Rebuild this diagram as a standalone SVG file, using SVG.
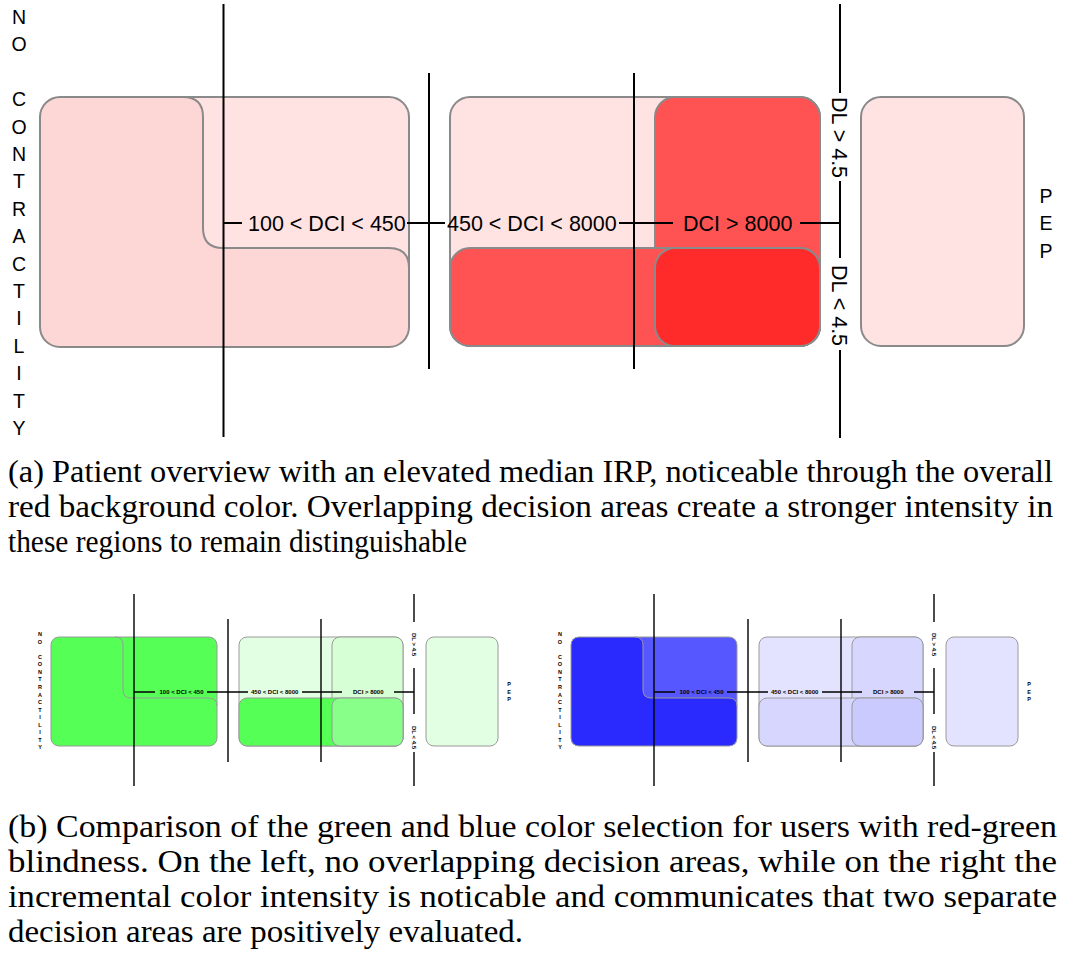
<svg xmlns="http://www.w3.org/2000/svg" width="1071" height="959" viewBox="0 0 1071 959">
<style>
.ln{stroke:#000;stroke-width:2;fill:none}
.sln{stroke:#000;stroke-width:1.4;fill:none}
.box{stroke:#8a8a8a;stroke-width:2}
.sbox{stroke:#9a9a9a;stroke-width:1}
.edge{stroke:#8a8a8a;stroke-width:2;fill:none}
.sedge{stroke:#9a9a9a;stroke-width:1;fill:none}
.lbl{font-family:"Liberation Sans",Arial,sans-serif;font-size:21.5px;fill:#000}
.axis{font-family:"Liberation Sans",Arial,sans-serif;font-size:19.5px;fill:#000;text-anchor:middle}
.slbl{font-family:"Liberation Sans",Arial,sans-serif;font-size:6px;font-weight:bold;fill:#000}
.saxis{font-family:"Liberation Sans",Arial,sans-serif;font-size:5.5px;font-weight:bold;fill:#000;text-anchor:middle}
.cap{font-family:"Liberation Serif","Times New Roman",Times,serif;font-size:32px;fill:#000}
</style>

<!-- ===== (a) red overview ===== -->
<g id="axis-no-contractility">
  <text class="axis" x="19" y="24"><tspan x="19">N</tspan><tspan x="19" dy="27.4">O</tspan><tspan x="19" dy="54.8">C</tspan><tspan x="19" dy="27.4">O</tspan><tspan x="19" dy="27.4">N</tspan><tspan x="19" dy="27.4">T</tspan><tspan x="19" dy="27.4">R</tspan><tspan x="19" dy="27.4">A</tspan><tspan x="19" dy="27.4">C</tspan><tspan x="19" dy="27.4">T</tspan><tspan x="19" dy="27.4">I</tspan><tspan x="19" dy="27.4">L</tspan><tspan x="19" dy="27.4">I</tspan><tspan x="19" dy="27.4">T</tspan><tspan x="19" dy="27.4">Y</tspan></text>
</g>

<g id="area-low-dci">
  <rect x="40" y="97" width="369" height="250" rx="20" fill="#ffe3e3"/>
  <path d="M60,97 H183 Q203,97 203,117 V228 Q203,248 223,248 H389 Q409,248 409,268 V327 Q409,347 389,347 H60 Q40,347 40,327 V117 Q40,97 60,97 Z" fill="#fdd6d6"/>
  <path class="edge" d="M183,97 Q203,97 203,117 V228 Q203,248 223,248 H389 Q409,248 409,268"/>
  <rect class="edge" x="40" y="97" width="369" height="250" rx="20"/>
</g>

<g id="area-mid-dci">
  <rect class="box" x="450" y="97" width="370" height="249" rx="20" fill="#ffe3e3"/>
  <rect class="box" x="655" y="97" width="165" height="249" rx="20" fill="#ff5353"/>
  <rect class="box" x="450" y="248" width="370" height="98" rx="20" fill="#ff5353"/>
  <rect class="box" x="655" y="248" width="165" height="98" rx="20" fill="#ff2a2a"/>
</g>

<g id="area-pep">
  <rect class="box" x="861" y="97" width="163" height="249" rx="20" fill="#ffe3e3"/>
  <text class="axis" x="1046" y="202.5"><tspan x="1046">P</tspan><tspan x="1046" dy="27.5">E</tspan><tspan x="1046" dy="27.5">P</tspan></text>
</g>

<g id="connectors">
  <path class="ln" d="M223.5,4 V437 M429,73 V369 M634,73 V369 M840,4 V93 M840,181 V258 M840,350 V438"/>
  <path class="ln" d="M224,223 H242 M407,223 H445 M619,223 H673 M800,223 H840"/>
  <text class="lbl" x="248" y="231">100 &lt; DCI &lt; 450</text>
  <text class="lbl" x="447" y="231">450 &lt; DCI &lt; 8000</text>
  <text class="lbl" x="683" y="231">DCI &gt; 8000</text>
  <text class="lbl" transform="translate(832,97) rotate(90)">DL &gt; 4.5</text>
  <text class="lbl" transform="translate(832,265) rotate(90)">DL &lt; 4.5</text>
</g>

<g id="caption-a" class="cap">
  <text x="8" y="482" font-family="Liberation Serif, Times New Roman, serif" textLength="1045" lengthAdjust="spacingAndGlyphs">(a) Patient overview with an elevated median IRP, noticeable through the overall</text>
  <text x="8" y="517" font-family="Liberation Serif, Times New Roman, serif" textLength="1045" lengthAdjust="spacingAndGlyphs">red background color. Overlapping decision areas create a stronger intensity in</text>
  <text x="8" y="552" font-family="Liberation Serif, Times New Roman, serif" textLength="459" lengthAdjust="spacingAndGlyphs">these regions to remain distinguishable</text>
</g>

<!-- ===== (b) green variant ===== -->
<g id="green-axis">
  <text class="saxis" x="40" y="636.3"><tspan x="40">N</tspan><tspan x="40" dy="7.53">O</tspan><tspan x="40" dy="15.06">C</tspan><tspan x="40" dy="7.53">O</tspan><tspan x="40" dy="7.53">N</tspan><tspan x="40" dy="7.53">T</tspan><tspan x="40" dy="7.53">R</tspan><tspan x="40" dy="7.53">A</tspan><tspan x="40" dy="7.53">C</tspan><tspan x="40" dy="7.53">T</tspan><tspan x="40" dy="7.53">I</tspan><tspan x="40" dy="7.53">L</tspan><tspan x="40" dy="7.53">I</tspan><tspan x="40" dy="7.53">T</tspan><tspan x="40" dy="7.53">Y</tspan></text>
</g>
<g id="green-low-dci">
  <rect class="sbox" x="51" y="637" width="166" height="109" rx="8" fill="#55ff55"/>
  <path class="sedge" d="M115,637 Q123,637 123,645 V690 Q123,698 131,698 H209 Q217,698 217,706"/>
</g>
<g id="green-mid-dci">
  <rect class="sbox" x="239" y="637" width="164" height="109" rx="8" fill="#e3ffe3"/>
  <rect class="sbox" x="332" y="637" width="71" height="109" rx="8" fill="#d6ffd6"/>
  <rect class="sbox" x="239" y="698" width="164" height="48" rx="8" fill="#55ff55"/>
  <rect class="sbox" x="332" y="698" width="71" height="48" rx="8" fill="#88ff88"/>
</g>
<g id="green-pep">
  <rect class="sbox" x="426" y="637" width="72" height="109" rx="8" fill="#e3ffe3"/>
  <text class="saxis" x="509" y="686.3"><tspan x="509">P</tspan><tspan x="509" dy="7.4">E</tspan><tspan x="509" dy="7.4">P</tspan></text>
</g>
<g id="green-connectors">
  <path class="sln" d="M134,594 V786 M228,619 V762 M321,619 V762 M414,594 V622 M414,668 V714 M414,752 V786"/>
  <path class="sln" d="M134,692 H155 M207,692 H248 M302,692 H342 M394,692 H414"/>
  <text class="slbl" x="159.5" y="694">100 &lt; DCI &lt; 450</text>
  <text class="slbl" x="251" y="694">450 &lt; DCI &lt; 8000</text>
  <text class="slbl" x="353" y="694">DCI &gt; 8000</text>
  <text class="slbl" transform="translate(411.8,633) rotate(90)">DL &gt; 4.5</text>
  <text class="slbl" transform="translate(411.8,726) rotate(90)">DL &lt; 4.5</text>
</g>

<!-- ===== (b) blue variant ===== -->
<g id="blue-axis">
  <text class="saxis" x="560" y="636.3"><tspan x="560">N</tspan><tspan x="560" dy="7.53">O</tspan><tspan x="560" dy="15.06">C</tspan><tspan x="560" dy="7.53">O</tspan><tspan x="560" dy="7.53">N</tspan><tspan x="560" dy="7.53">T</tspan><tspan x="560" dy="7.53">R</tspan><tspan x="560" dy="7.53">A</tspan><tspan x="560" dy="7.53">C</tspan><tspan x="560" dy="7.53">T</tspan><tspan x="560" dy="7.53">I</tspan><tspan x="560" dy="7.53">L</tspan><tspan x="560" dy="7.53">I</tspan><tspan x="560" dy="7.53">T</tspan><tspan x="560" dy="7.53">Y</tspan></text>
</g>
<g id="blue-low-dci">
  <rect x="571" y="637" width="166" height="109" rx="8" fill="#5757ff"/>
  <path d="M579,637 H635 Q643,637 643,645 V690 Q643,698 651,698 H729 Q737,698 737,706 V738 Q737,746 729,746 H579 Q571,746 571,738 V645 Q571,637 579,637 Z" fill="#2a2aff"/>
  <path class="sedge" d="M635,637 Q643,637 643,645 V690 Q643,698 651,698 H729 Q737,698 737,706"/>
  <rect class="sedge" x="571" y="637" width="166" height="109" rx="8"/>
</g>
<g id="blue-mid-dci">
  <rect class="sbox" x="759" y="637" width="164" height="109" rx="8" fill="#e3e3ff"/>
  <rect class="sbox" x="852" y="637" width="71" height="109" rx="8" fill="#d6d6ff"/>
  <rect class="sbox" x="759" y="698" width="164" height="48" rx="8" fill="#d6d6ff"/>
  <rect class="sbox" x="852" y="698" width="71" height="48" rx="8" fill="#cacaff"/>
</g>
<g id="blue-pep">
  <rect class="sbox" x="946" y="637" width="72" height="109" rx="8" fill="#e3e3ff"/>
  <text class="saxis" x="1029" y="686.3"><tspan x="1029">P</tspan><tspan x="1029" dy="7.4">E</tspan><tspan x="1029" dy="7.4">P</tspan></text>
</g>
<g id="blue-connectors">
  <path class="sln" d="M654,594 V786 M748,619 V762 M841,619 V762 M934,594 V622 M934,668 V714 M934,752 V786"/>
  <path class="sln" d="M654,692 H675 M727,692 H768 M822,692 H862 M914,692 H934"/>
  <text class="slbl" x="679.5" y="694">100 &lt; DCI &lt; 450</text>
  <text class="slbl" x="771" y="694">450 &lt; DCI &lt; 8000</text>
  <text class="slbl" x="873" y="694">DCI &gt; 8000</text>
  <text class="slbl" transform="translate(931.8,633) rotate(90)">DL &gt; 4.5</text>
  <text class="slbl" transform="translate(931.8,726) rotate(90)">DL &lt; 4.5</text>
</g>

<g id="caption-b" class="cap">
  <text x="8" y="837" font-family="Liberation Serif, Times New Roman, serif" textLength="1049" lengthAdjust="spacingAndGlyphs">(b) Comparison of the green and blue color selection for users with red-green</text>
  <text x="8" y="872" font-family="Liberation Serif, Times New Roman, serif" textLength="1049" lengthAdjust="spacingAndGlyphs">blindness.  On the left, no overlapping decision areas, while on the right the</text>
  <text x="8" y="907" font-family="Liberation Serif, Times New Roman, serif" textLength="1049" lengthAdjust="spacingAndGlyphs">incremental color intensity is noticable and communicates that two separate</text>
  <text x="8" y="942" font-family="Liberation Serif, Times New Roman, serif" textLength="515" lengthAdjust="spacingAndGlyphs">decision areas are positively evaluated.</text>
</g>
</svg>
